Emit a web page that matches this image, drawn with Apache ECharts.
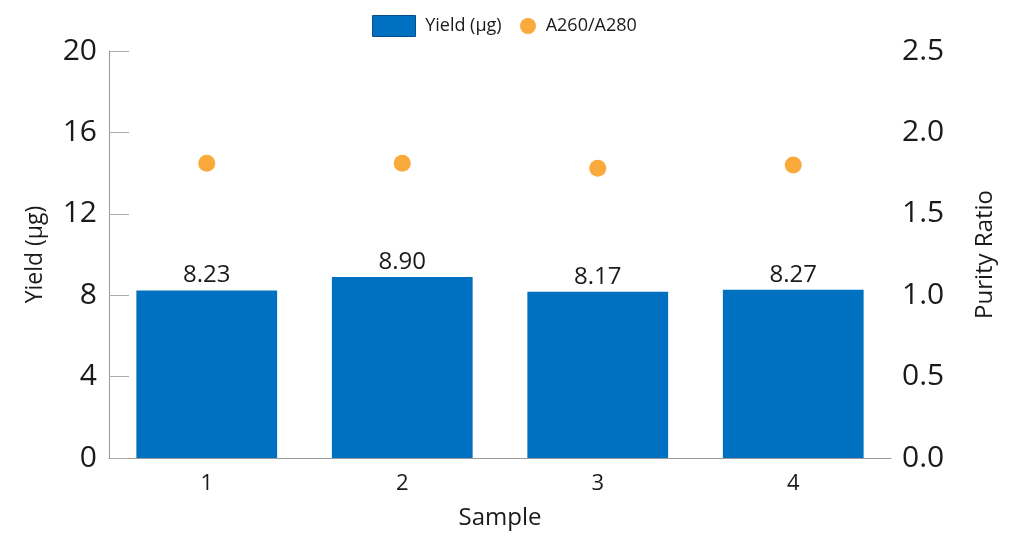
<!DOCTYPE html>
<html>
<head>
<meta charset="utf-8">
<script src="https://cdn.jsdelivr.net/npm/echarts@6/dist/echarts.min.js"></script>
<style>html,body{margin:0;padding:0;background:#fff;}#c{width:1024px;height:547px;}</style>
</head>
<body>
<div id="c"></div>
<script>
const categories = ['1', '2', '3', '4'];
const yieldValues = [8.23, 8.90, 8.17, 8.27];
const purityValues = [1.81, 1.81, 1.78, 1.80];
const yieldTicks = { min: 0, max: 20, interval: 4 };
const purityTicks = { min: 0, max: 2.5, interval: 0.5 };

const font = '"Open Sans", sans-serif';
const txt = '#1a1a1a';
const legendText = { fontFamily: font, fontSize: 18, color: txt };
const chart = echarts.init(document.getElementById('c'));
chart.setOption({
  animation: false,
  textStyle: { fontFamily: font },
  legend: [
    {
      top: 10, left: 367,
      itemWidth: 43, itemHeight: 21, itemGap: 10,
      textStyle: legendText,
      formatter: name => ' ' + name,
      data: [{ name: 'Yield (μg)', icon: 'rect', textStyle: legendText,
        itemStyle: { color: '#0070C0', borderColor: '#0a4f8a', borderWidth: 1 } }]
    },
    {
      top: 12, left: 515,
      itemWidth: 16, itemHeight: 16, itemGap: 8,
      textStyle: legendText,
      formatter: name => ' ' + name,
      data: [{ name: 'A260/A280', icon: 'circle', textStyle: legendText }]
    }
  ],
  grid: { left: 109, right: 133, top: 51, bottom: 89 },
  xAxis: {
    type: 'category', data: categories,
    name: 'Sample', nameLocation: 'middle', nameGap: 48,
    nameTextStyle: { fontFamily: font, fontSize: 24, color: txt },
    axisLine: { lineStyle: { color: '#999', width: 1 } },
    axisTick: { inside: true, length: 14, lineStyle: { color: '#aaa' } },
    axisLabel: { fontFamily: font, fontSize: 22, color: txt, margin: 15 }
  },
  yAxis: [
    {
      type: 'value', min: yieldTicks.min, max: yieldTicks.max, interval: yieldTicks.interval,
      name: 'Yield (μg)', nameLocation: 'middle', nameGap: 62, nameRotate: 90,
      nameTextStyle: { fontFamily: font, fontSize: 23, color: txt },
      axisLine: { show: true, lineStyle: { color: '#999', width: 1 } },
      axisTick: { show: true, inside: true, length: 20, lineStyle: { color: '#aaa' } },
      axisLabel: { fontFamily: font, fontSize: 30, color: txt, margin: 12 },
      splitLine: { show: false }
    },
    {
      type: 'value', min: purityTicks.min, max: purityTicks.max, interval: purityTicks.interval,
      position: 'right',
      name: 'Purity Ratio', nameLocation: 'middle', nameGap: 82, nameRotate: 90,
      nameTextStyle: { fontFamily: font, fontSize: 24, color: txt },
      axisLine: { show: false },
      axisTick: { show: false },
      axisLabel: { fontFamily: font, fontSize: 30, color: txt, margin: 11,
        formatter: v => v.toFixed(1) },
      splitLine: { show: false }
    }
  ],
  series: [
    {
      name: 'Yield (μg)', type: 'bar', data: yieldValues, yAxisIndex: 0,
      barCategoryGap: '28%',
      itemStyle: { color: '#0070C0' },
      label: { show: true, position: 'top', distance: 3, fontFamily: font, fontSize: 24, color: txt,
        formatter: p => p.value.toFixed(2) }
    },
    {
      name: 'A260/A280', type: 'scatter', data: purityValues, yAxisIndex: 1,
      symbol: 'circle', symbolSize: 17,
      itemStyle: { color: '#F9AA3A', opacity: 1 }
    }
  ]
});
</script>
</body>
</html>
